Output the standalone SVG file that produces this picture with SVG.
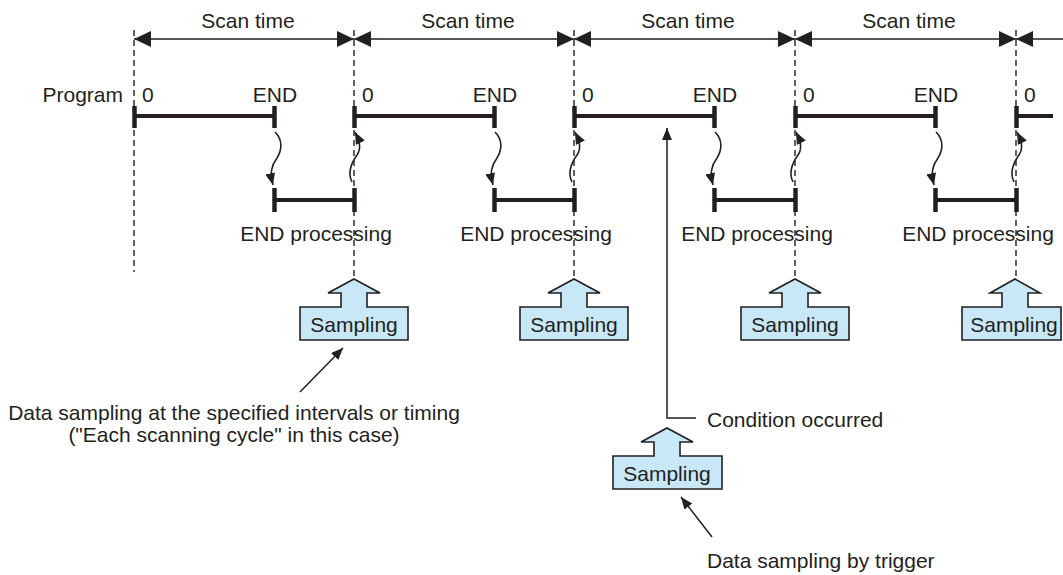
<svg xmlns="http://www.w3.org/2000/svg" width="1063" height="575" viewBox="0 0 1063 575">
<defs>
<style>
text{font-family:"Liberation Sans",Arial,sans-serif;font-size:21px;fill:#231f20}
.mid{text-anchor:middle}
.dash{stroke:#231f20;stroke-width:1.4;stroke-dasharray:6 4;fill:none}
.dim{stroke:#231f20;stroke-width:1.4;fill:none;marker-start:url(#big);marker-end:url(#big)}
.bar{stroke:#231f20;stroke-width:4;fill:none}
.tick{stroke:#231f20;stroke-width:4.5;fill:none}
.wave{stroke:#231f20;stroke-width:1.6;fill:none;marker-end:url(#small)}
.thin{stroke:#231f20;stroke-width:1.5;fill:none}
.samp{fill:#c9e8f7;stroke:#231f20;stroke-width:1.6;stroke-linejoin:miter}
</style>
<marker id="big" markerUnits="userSpaceOnUse" markerWidth="18" markerHeight="17" refX="17" refY="8" orient="auto-start-reverse">
<path d="M0,0 L17,8 L0,16 Z" fill="#231f20"/>
</marker>
<marker id="small" markerUnits="userSpaceOnUse" markerWidth="13" markerHeight="11" refX="12" refY="5" orient="auto">
<path d="M0,0 L12,5 L0,10 Z" fill="#231f20"/>
</marker>
</defs>
<rect width="1063" height="575" fill="#fff"/>

<g id="connectors">
<line class="dim" x1="134" y1="39" x2="354" y2="39"/>
<line class="dim" x1="354" y1="39" x2="574" y2="39"/>
<line class="dim" x1="574" y1="39" x2="795" y2="39"/>
<line class="dim" x1="795" y1="39" x2="1016" y2="39"/>
<line class="thin" x1="1016" y1="39" x2="1063" y2="39" style="stroke-width:1.4;marker-start:url(#big)"/>
<line class="dash" x1="134" y1="30" x2="134" y2="272"/>
<line class="dash" x1="354" y1="30" x2="354" y2="279"/>
<line class="dash" x1="574" y1="30" x2="574" y2="279"/>
<line class="dash" x1="795" y1="30" x2="795" y2="279"/>
<line class="dash" x1="1016" y1="30" x2="1016" y2="279"/>
<path class="wave" d="M275,132 C283,140 282,150 277,158 C271,166 270,173 273,185"/>
<path class="wave" d="M495,132 C503,140 502,150 497,158 C491,166 490,173 493,185"/>
<path class="wave" d="M715,132 C723,140 722,150 717,158 C711,166 710,173 713,185"/>
<path class="wave" d="M936,132 C944,140 943,150 938,158 C932,166 931,173 934,185"/>
<path class="wave" d="M352,182 C347,172 352,162 357,155 C362,148 359,140 355,132"/>
<path class="wave" d="M572,182 C567,172 572,162 577,155 C582,148 579,140 575,132"/>
<path class="wave" d="M793,182 C788,172 793,162 798,155 C803,148 800,140 796,132"/>
<path class="wave" d="M1014,182 C1009,172 1014,162 1019,155 C1024,148 1021,140 1017,132"/>
<path class="thin" d="M696,418 L667,418 L667,128" style="marker-end:url(#small)"/>
<line class="thin" x1="300" y1="392" x2="343" y2="348" style="marker-end:url(#small)"/>
<line class="thin" x1="712" y1="537" x2="681" y2="497" style="marker-end:url(#small)"/>
</g>

<g id="labels">
<text class="mid" x="248" y="28">Scan time</text>
<text class="mid" x="468" y="28">Scan time</text>
<text class="mid" x="688" y="28">Scan time</text>
<text class="mid" x="909" y="28">Scan time</text>
<text x="123" y="102" text-anchor="end">Program</text>
</g>

<g id="scan1">
<line class="bar" x1="134" y1="116" x2="274" y2="116"/>
<line class="tick" x1="134.5" y1="106" x2="134.5" y2="128"/>
<line class="tick" x1="274.5" y1="106" x2="274.5" y2="128"/>
<text x="142" y="102">0</text>
<text class="mid" x="275" y="102">END</text>
</g>
<g id="scan2">
<line class="bar" x1="354" y1="116" x2="494" y2="116"/>
<line class="tick" x1="354.5" y1="106" x2="354.5" y2="128"/>
<line class="tick" x1="494.5" y1="106" x2="494.5" y2="128"/>
<text x="362" y="102">0</text>
<text class="mid" x="495" y="102">END</text>
</g>
<g id="scan3">
<line class="bar" x1="574" y1="116" x2="714" y2="116"/>
<line class="tick" x1="574.5" y1="106" x2="574.5" y2="128"/>
<line class="tick" x1="714.5" y1="106" x2="714.5" y2="128"/>
<text x="582" y="102">0</text>
<text class="mid" x="715" y="102">END</text>
</g>
<g id="scan4">
<line class="bar" x1="795" y1="116" x2="935" y2="116"/>
<line class="tick" x1="795.5" y1="106" x2="795.5" y2="128"/>
<line class="tick" x1="935.5" y1="106" x2="935.5" y2="128"/>
<text x="803" y="102">0</text>
<text class="mid" x="936" y="102">END</text>
</g>
<g id="scan5">
<line class="bar" x1="1016" y1="116" x2="1053" y2="116"/>
<line class="tick" x1="1016.5" y1="106" x2="1016.5" y2="128"/>
<text x="1024" y="102">0</text>
</g>

<g id="endproc1">
<line class="bar" x1="274" y1="200" x2="354" y2="200"/>
<line class="tick" x1="274.5" y1="188" x2="274.5" y2="212"/>
<line class="tick" x1="354.5" y1="188" x2="354.5" y2="212"/>
<text class="mid" x="316" y="241">END processing</text>
</g>
<g id="endproc2">
<line class="bar" x1="494" y1="200" x2="574" y2="200"/>
<line class="tick" x1="494.5" y1="188" x2="494.5" y2="212"/>
<line class="tick" x1="574.5" y1="188" x2="574.5" y2="212"/>
<text class="mid" x="536" y="241">END processing</text>
</g>
<g id="endproc3">
<line class="bar" x1="714" y1="200" x2="795" y2="200"/>
<line class="tick" x1="714.5" y1="188" x2="714.5" y2="212"/>
<line class="tick" x1="795.5" y1="188" x2="795.5" y2="212"/>
<text class="mid" x="757" y="241">END processing</text>
</g>
<g id="endproc4">
<line class="bar" x1="935" y1="200" x2="1016" y2="200"/>
<line class="tick" x1="935.5" y1="188" x2="935.5" y2="212"/>
<line class="tick" x1="1016.5" y1="188" x2="1016.5" y2="212"/>
<text class="mid" x="978" y="241">END processing</text>
</g>

<g id="sampling1">
<path class="samp" d="M354,279 L380,293 L367,293 L367,307 L408,307 L408,340 L300,340 L300,307 L341,307 L341,293 L328,293 Z"/>
<text class="mid" x="354" y="332">Sampling</text>
</g>
<g id="sampling2">
<path class="samp" d="M574,279 L600,293 L587,293 L587,307 L628,307 L628,340 L520,340 L520,307 L561,307 L561,293 L548,293 Z"/>
<text class="mid" x="574" y="332">Sampling</text>
</g>
<g id="sampling3">
<path class="samp" d="M795,279 L821,293 L808,293 L808,307 L849,307 L849,340 L741,340 L741,307 L782,307 L782,293 L769,293 Z"/>
<text class="mid" x="795" y="332">Sampling</text>
</g>
<g id="sampling4">
<path class="samp" d="M1015,279 L1040,293 L1028,293 L1028,307 L1061,307 L1061,340 L962,340 L962,307 L1002,307 L1002,293 L990,293 Z"/>
<text class="mid" x="1014" y="332">Sampling</text>
</g>
<g id="sampling-trigger">
<path class="samp" d="M667,428 L693,442 L680,442 L680,456 L722,456 L722,489 L613,489 L613,456 L654,456 L654,442 L641,442 Z"/>
<text class="mid" x="667" y="481">Sampling</text>
</g>

<g id="notes">
<text class="mid" x="234" y="420">Data sampling at the specified intervals or timing</text>
<text class="mid" x="234" y="442">("Each scanning cycle" in this case)</text>
<text x="707" y="427">Condition occurred</text>
<text x="707" y="568">Data sampling by trigger</text>
</g>
</svg>
